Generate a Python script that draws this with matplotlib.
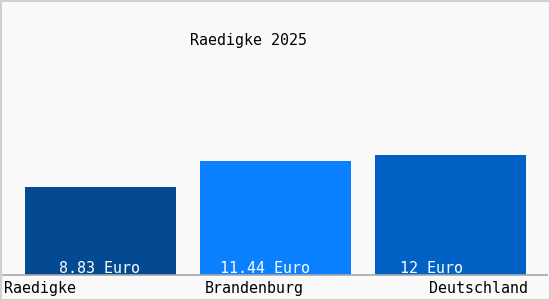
import matplotlib.pyplot as plt
from matplotlib.patches import Rectangle

regions = ["Raedigke", "Brandenburg", "Deutschland"]
values = [8.83, 11.44, 12.0]
value_labels = ["8.83 Euro", "11.44 Euro", "12 Euro"]
title = "Raedigke 2025"

colors = ["#044a93", "#0a80fe", "#0062c4"]
font = "DejaVu Sans Mono"


def main():
    fig = plt.figure(figsize=(5.5, 3.0), dpi=100, facecolor="#fafafa")
    # axes spans full width; pixel 0..550 maps to x 0..550, y 0 at px 275
    ax = fig.add_axes([0, 25 / 300, 1, 275 / 300])
    ax.set_facecolor("#fafafa")
    ax.set_xlim(0, 550)
    ax.set_ylim(0, 27.5)
    ax.axis("off")

    lefts = [25, 200, 375]
    ax.bar(lefts, values, width=151, align="edge", color=colors, zorder=2)

    # value text inside bars, baseline ~2px above bar bottom
    text_x = [59, 220, 400]
    for x, lab in zip(text_x, value_labels):
        ax.text(x, 0.2, lab, color="white", fontsize=10.8, family=font,
                ha="left", va="baseline", zorder=3)

    # baseline
    fig.add_artist(plt.Line2D([3 / 550, 547 / 550], [25 / 300, 25 / 300],
                              color="#a8a8a8", lw=1.2))

    # category labels
    yb = 1 - 293 / 300
    fig.text(4 / 550, yb, regions[0], fontsize=10.8, family=font,
             ha="left", va="baseline")
    fig.text(254 / 550, yb, regions[1], fontsize=10.8, family=font,
             ha="center", va="baseline")
    fig.text(528 / 550, yb, regions[2], fontsize=10.8, family=font,
             ha="right", va="baseline")

    fig.text(248 / 550, 1 - 45 / 300, title, fontsize=10.8, family=font,
             ha="center", va="baseline")

    # outer border
    fig.add_artist(Rectangle((0.5 / 550, 0.5 / 300), 549 / 550, 299 / 300,
                             transform=fig.transFigure, fill=False,
                             edgecolor="#d0d0d0", lw=1.5))

    fig.savefig("out.png", dpi=100, facecolor=fig.get_facecolor())
    plt.close(fig)


if __name__ == "__main__":
    main()
